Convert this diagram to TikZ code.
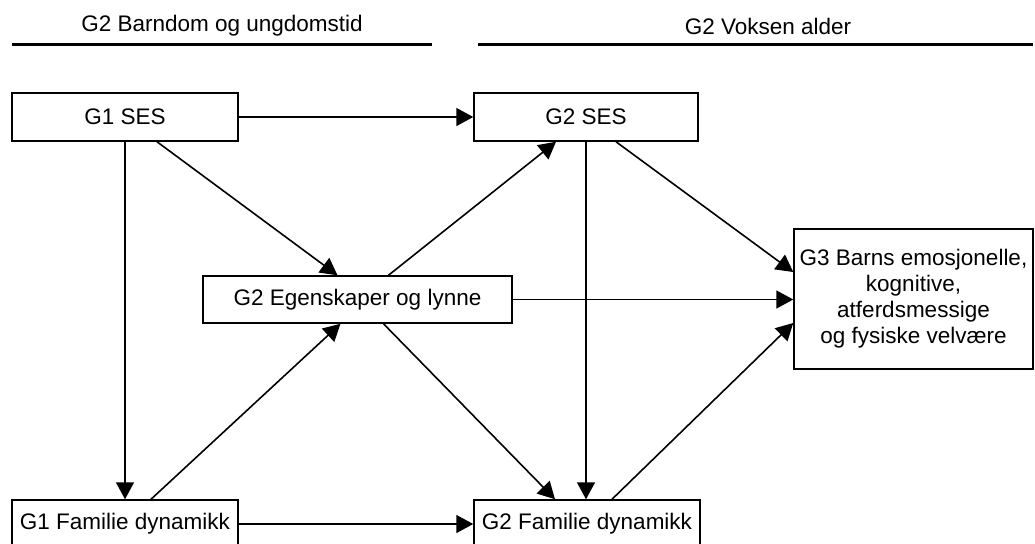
\documentclass[tikz,border=0pt]{standalone}
\usepackage{fontspec}
\setmainfont{Liberation Sans}
\usetikzlibrary{arrows.meta,calc}

\begin{document}
\begin{tikzpicture}[x=0.5pt, y=-0.5pt,
        box/.style={draw, line width=0.75pt, inner sep=0pt, minimum width=113pt, minimum height=24pt},
        link/.style={line width=0.8pt, -{Triangle[length=8.5pt, width=9pt]}},
        period/.style={line width=1.5pt},
        every node/.style={font=\fontsize{11.25}{13}\selectfont}]
        \useasboundingbox (0,0) rectangle (1035,543);
        % headers
        \node (barndom) at (222,26) {G2 Barndom og ungdomstid};
        \node (voksen) at (768,26) {G2 Voksen alder};
        \draw[period] (12,44) -- (432,44);
        \draw[period] (478,44) -- (1033,44);
        % boxes
        \node[box] (g1ses) at (125,117) {G1 SES};
        \node[box, minimum width=112pt] (g2ses) at (586,117) {G2 SES};
        \node[box, minimum width=154.5pt, minimum height=23.5pt] (egensk) at (357.5,299.5) {G2 Egenskaper og lynne};
        \node[box, minimum width=119.5pt, minimum height=70pt, align=center] (g3) at (913.5,299) {G3 Barns emosjonelle,\\kognitive,\\atferdsmessige\\og fysiske velvære};
        \node[box] (g1fam) at (125,524) {G1 Familie dynamikk};
        \node[box] (g2fam) at (587,524) {G2 Familie dynamikk};
        % arrows
        \draw[link] (g1ses) -- (g2ses);
        \draw[link] (g1ses) -- (g1fam);
        \draw[link] ($(g1ses.south)+(32,0)$) -- ($(egensk.north)+(-20,0)$);
        \draw[link] ($(g1fam.north)+(26,0)$) -- ($(egensk.south)+(-17,0)$);
        \draw[link] (g1fam) -- (g2fam);
        \draw[link] ($(egensk.north)+(31,0)$) -- ($(g2ses.south)+(-30,0)$);
        \draw[link] (egensk.east) -- (egensk.east -| g3.west);
        \draw[link] ($(egensk.south)+(26,0)$) -- ($(g2fam.north)+(-32,0)$);
        \draw[link] (g2ses.south) -- (g2ses.south |- g2fam.north);
        \draw[link] ($(g2ses.south)+(30,0)$) -- ($(g3.west)+(0,-27)$);
        \draw[link] ($(g2fam.north)+(25,0)$) -- ($(g3.west)+(0,24)$);
\end{tikzpicture}
\end{document}
